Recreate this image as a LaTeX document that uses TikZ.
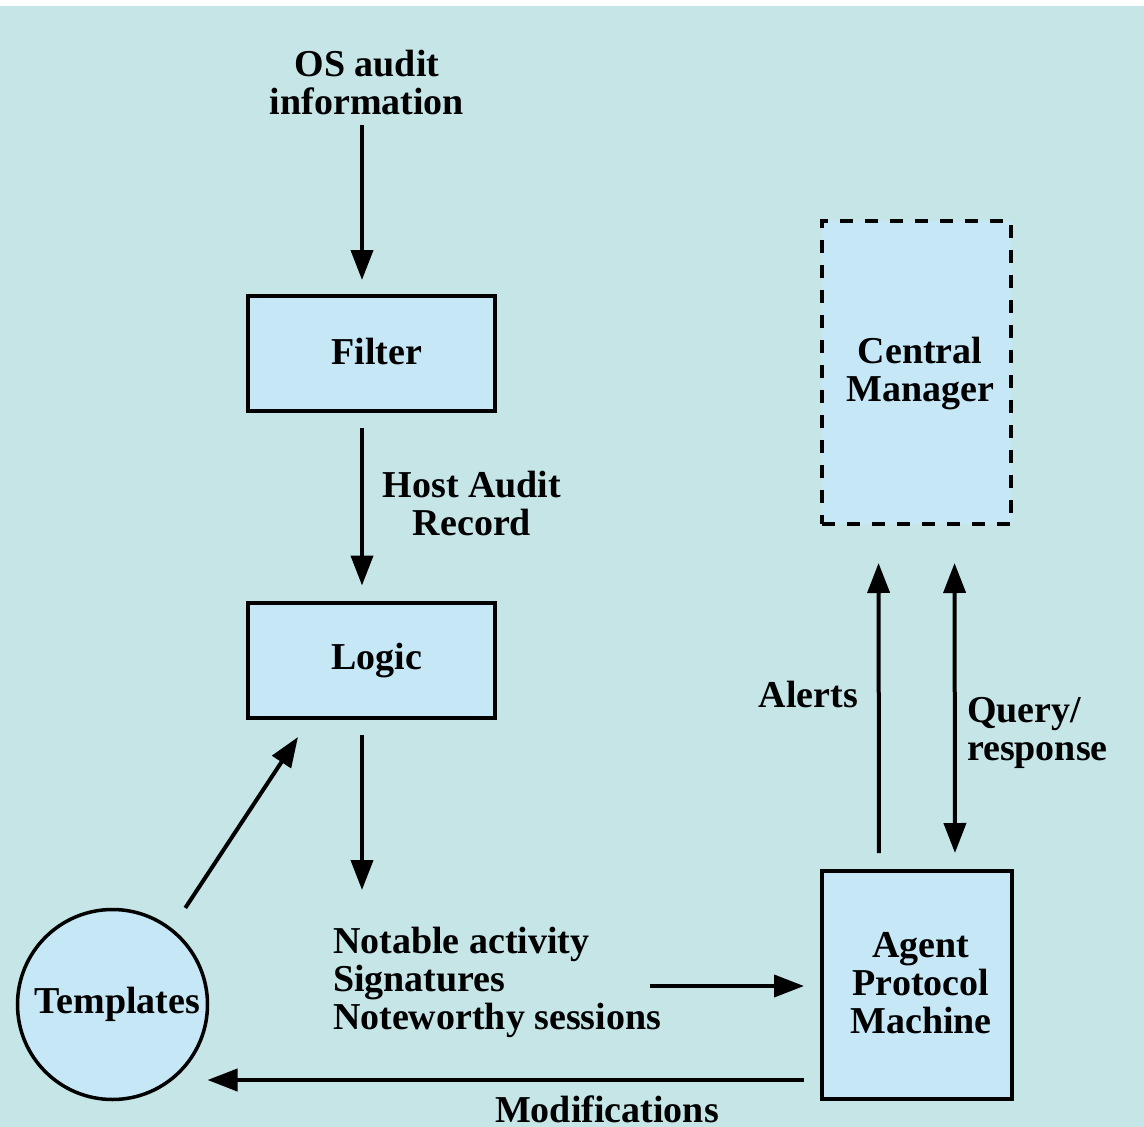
\documentclass[tikz,border=0pt]{standalone}
\usepackage{fontspec}
\setmainfont{Liberation Serif}
\usetikzlibrary{arrows.meta}
\definecolor{bgteal}{RGB}{197,229,231}
\definecolor{boxblue}{RGB}{197,231,246}
\begin{document}
\begin{tikzpicture}[x=1pt,y=-1pt,
  every node/.style={font=\bfseries\fontsize{38pt}{38pt}\selectfont, inner sep=0pt, outer sep=0pt},
  block/.style={draw, line width=4pt, fill=boxblue, minimum width=#1},
  manager/.style={draw, line width=4pt, fill=boxblue, dash pattern=on 13pt off 12pt},
  disc/.style={draw, circle, line width=3.5pt, fill=boxblue, minimum size=190pt},
  arr/.style={line width=4pt, -{Triangle[length=30pt,width=22pt]}},
  biarr/.style={line width=4pt, {Triangle[length=30pt,width=22pt]}-{Triangle[length=30pt,width=22pt]}},
  lbl/.style={align=center}
]
% page and background
\useasboundingbox (0,0) rectangle (1144,1127);
\fill[white] (0,0) rectangle (1144,1127);
\fill[bgteal] (0,6) rectangle (1144,1127);

% boxes
\node[block=247pt, minimum height=115pt] (filter) at (371.5,353.5) {};
\node (filtertext) at (377,351) {Filter};
\node[block=247pt, minimum height=115pt] (logic) at (371.5,660) {};
\node (logictext) at (377,661) {Logic};
\node[block=190pt, minimum height=228pt] (agent) at (917,985) {};
\node[lbl] (agenttext) at (921,983) {Agent\\Protocol\\Machine};
\node[manager, minimum width=189pt, minimum height=303pt] (cm) at (916.5,372.5) {};
\node[lbl] (cmtext) at (920,374) {Central\\Manager};
\node[disc] (templates) at (112.5,1004.5) {};
\node (templatestext) at (117.5,1004) {Templates};

% free-standing labels
\node[lbl] (os) at (367,83) {OS audit\\information};
\node[lbl] (hostaudit) at (472,503) {Host Audit\\Record};
\node[align=left, anchor=west] (notable) at (333,982) {Notable activity\\Signatures\\Noteworthy sessions};
\node[anchor=east] (alerts) at (858,694) {Alerts};
\node[align=left, anchor=west] (query) at (967,733) {Query/\\response};
\node (modif) at (607,1109) {Modifications};

% free connector ends
\coordinate (osend) at (362,125);
\coordinate (logicout) at (362,890);
\coordinate (actstart) at (650,986);
\coordinate (tmplhead) at (298,737);

% connectors
\draw[arr, shorten >=16pt] (osend) -- ([xshift=-9.5pt]filter.north);
\draw[arr, shorten <=17pt, shorten >=17pt] ([xshift=-9.5pt]filter.south) -- ([xshift=-9.5pt]logic.north);
\draw[arr, shorten <=17pt] ([xshift=-9.5pt]logic.south) -- (logicout);
\draw[arr, shorten >=18pt] (actstart) -- (actstart -| agent.west);
\draw[arr, shorten <=18pt] ([yshift=-95pt]agent.west) -- ([yshift=-95pt]agent.west -| templates.east);
\draw[arr, shorten <=26pt] (templates.52) -- (tmplhead);
\draw[arr, shorten <=18pt, shorten >=39pt] ([xshift=-38pt]agent.north) -- ([xshift=-38pt]cm.south);
\draw[biarr, shorten <=18pt, shorten >=39pt] ([xshift=38pt]agent.north) -- ([xshift=38pt]cm.south);
\end{tikzpicture}
\end{document}
